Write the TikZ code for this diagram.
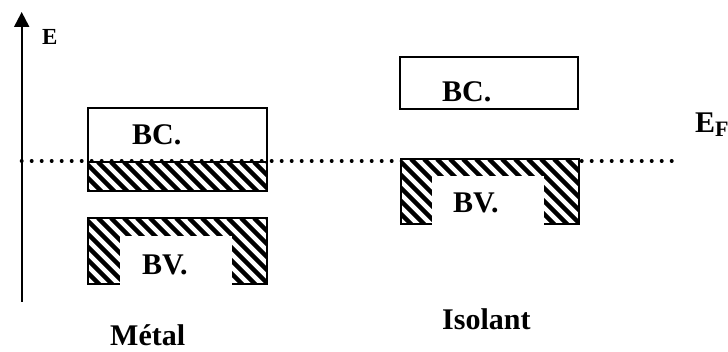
\documentclass[tikz,border=0pt]{standalone}
\usepackage{fontspec}
\setmainfont{Liberation Serif}
\usetikzlibrary{arrows.meta}
\tikzset{
  lbl/.style={font=\bfseries\fontsize{30}{36}\selectfont, inner sep=0pt, anchor=base west},
  band/.style={line width=2pt, draw=black},
  hatchline/.style={line width=4.5pt},
  fermi/.style={line width=4pt, line cap=round, dash pattern=on 0pt off 10pt},
}
\newcommand\myhatch[4]{%
  \begin{scope}
    \clip (#1,#2) rectangle (#3,#4);
    \foreach \k in {-120,-107,...,300} \draw[hatchline] (#1+\k,#2) -- ++(130,130);
  \end{scope}}
\begin{document}
\begin{tikzpicture}[x=1pt,y=-1pt]
\useasboundingbox (0,0) rectangle (728,352);
% energy axis
\coordinate (axb) at (21.7,302);
\coordinate (axt) at (21.7,12);
\draw[line width=2pt, -{Triangle[width=15pt,length=15pt]}] (axb) -- (axt);
\node[lbl, font=\bfseries\fontsize{23}{28}\selectfont] (E) at (42,45) {E};
% metal
\draw[band] (88,108) rectangle (267,162);
\myhatch{88}{162}{267}{191}
\draw[band] (88,162) rectangle (267,191);
\myhatch{88}{218}{267}{284}
\draw[band] (88,218) rectangle (267,284);
\fill[white] (120,236) rectangle (232,287);
\node[lbl] (mbc) at (132,145) {BC.};
\node[lbl] (mbv) at (142,275) {BV.};
\node[lbl] (metal) at (110,345) {Métal};
% isolant conduction band
\draw[band] (400,57) rectangle (578,109);
\node[lbl] (ibc) at (442,102) {BC.};
% Fermi level
\coordinate (fl) at (21.7,161);
\coordinate (fr) at (676,161);
\draw[fermi] (fl) -- (fr);
\node[lbl] (EF) at (695,133) {E\raisebox{-4pt}{\fontsize{22}{26}\selectfont F}};
% isolant valence band
\fill[white] (401,159) rectangle (579,224);
\myhatch{401}{159}{579}{224}
\draw[band] (401,159) rectangle (579,224);
\fill[white] (432,176) rectangle (544,227);
\node[lbl] (ibv) at (453,213) {BV.};
\node[lbl] (isol) at (442,330) {Isolant};
\end{tikzpicture}
\end{document}
